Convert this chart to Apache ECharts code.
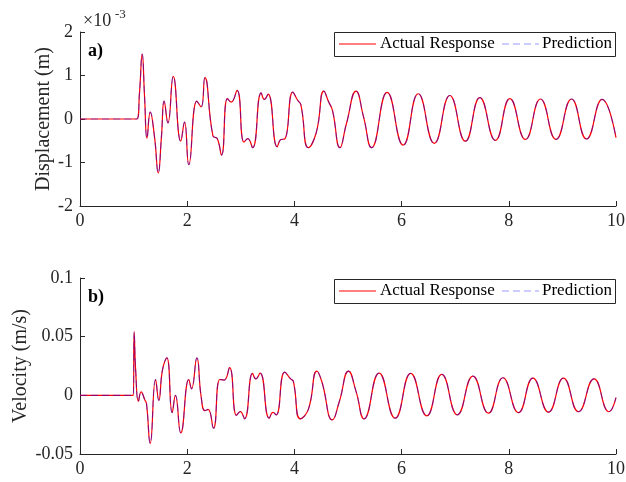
<!DOCTYPE html>
<html>
<head>
<meta charset="utf-8">
<script src="https://cdn.jsdelivr.net/npm/echarts@6/dist/echarts.min.js"></script>
<style>
html,body{margin:0;padding:0;background:#fff;}
#chart{width:626px;height:482px;}
</style>
</head>
<body>
<div id="chart"></div>
<script>
// Time (s) and displacement (x10^-3 m)
const dispTime = [0,1.06,1.11,1.16,1.205,1.25,1.31,1.39,1.46,1.52,1.57,1.64,1.74,1.88,1.95,2.03,2.18,2.26,2.33,2.48,2.56,2.64,2.75,2.82,2.93,3.06,3.13,3.22,3.38,3.44,3.51,3.68,3.75,3.82,3.97,4.06,4.12,4.26,4.41,4.55,4.64,4.71,4.85,4.97,5.15,5.29,5.44,5.73,6.03,6.31,6.61,6.90,7.19,7.46,7.75,8.02,8.31,8.59,8.88,9.17,9.45,9.74,10.0];
const dispActual = [0,0,0.6,1.49,0.5,-0.44,0.16,-0.41,-1.24,-0.4,0.41,-0.09,0.98,-0.51,-0.07,-1.05,0.41,0.28,0.95,-0.39,-0.45,-0.83,0.47,0.39,0.66,-0.53,-0.45,-0.66,0.60,0.45,0.57,-0.64,-0.47,-0.46,0.62,0.43,0.33,-0.66,-0.30,0.64,0.39,0.20,-0.66,-0.11,0.64,0.05,-0.66,0.61,-0.60,0.58,-0.56,0.54,-0.51,0.49,-0.49,0.47,-0.47,0.46,-0.47,0.46,-0.46,0.45,-0.43];
const dispPred = dispActual.slice();

// Time (s) and velocity (m/s)
const velTime = [0,0.995,1.01,1.04,1.09,1.14,1.21,1.24,1.31,1.41,1.47,1.54,1.62,1.72,1.78,1.88,2.03,2.08,2.18,2.26,2.33,2.39,2.49,2.61,2.69,2.79,2.92,2.99,3.07,3.22,3.28,3.36,3.53,3.60,3.66,3.82,3.93,3.98,4.11,4.26,4.42,4.51,4.71,4.84,5.01,5.15,5.30,5.58,5.88,6.17,6.47,6.75,7.04,7.33,7.62,7.89,8.18,8.45,8.74,9.02,9.30,9.59,9.87,10.0];
const velActual = [0,0,0.054,0.02,-0.005,0.003,-0.004,-0.007,-0.041,0.0135,-0.0043,0.022,0.032,-0.0147,0.0,-0.032,0.0135,0.0055,0.032,-0.001,-0.013,-0.012,-0.028,0.0135,0.013,0.0236,-0.017,-0.0138,-0.020,0.0187,0.014,0.019,-0.0195,-0.0146,-0.0166,0.0198,0.014,0.012,-0.020,-0.012,0.0207,0.012,-0.021,-0.005,0.0207,0.0034,-0.020,0.019,-0.0195,0.0187,-0.0175,0.0178,-0.0166,0.0164,-0.0152,0.015,-0.0147,0.0147,-0.0143,0.0147,-0.014,0.014,-0.014,-0.002];
const velPred = velActual.slice();

const xTicks = [0,2,4,6,8,10];
const seriesNames = ['Actual Response','Prediction'];
const panelLabels = ['a)','b)'];

const pair = (t, v) => t.map((x, i) => [x, v[i]]);
const FONT = '"Liberation Serif","Times New Roman",serif';
const AX = '#262626';
const RED = '#ff0000';
const BLUE = 'rgba(0,0,255,0.4)';
const DASH = [7,4];

function xAxis(gi){
  return {
    type:'value', gridIndex:gi, min:xTicks[0], max:xTicks[xTicks.length-1], interval:xTicks[1]-xTicks[0],
    axisLine:{show:true, onZero:false, lineStyle:{color:AX, width:1}},
    axisTick:{show:true, inside:true, length:5, lineStyle:{color:AX}},
    axisLabel:{color:'#262626', fontFamily:FONT, fontSize:18, margin:6},
    splitLine:{show:false}
  };
}
function yAxis(gi, min, max, interval, name, gap){
  return {
    type:'value', gridIndex:gi, min:min, max:max, interval:interval,
    name:name, nameLocation:'middle', nameGap:gap, nameRotate:90, nameMoveOverlap:false,
    nameTextStyle:{color:'#262626', fontFamily:FONT, fontSize:20},
    axisLine:{show:true, onZero:false, lineStyle:{color:AX, width:1}},
    axisTick:{show:true, inside:true, length:5, lineStyle:{color:AX}},
    axisLabel:{color:'#262626', fontFamily:FONT, fontSize:18, margin:7},
    splitLine:{show:false}
  };
}
// legend box drawn as graphic elements (box, sample lines, real text)
function legendBox(top){
  const cy = top + 12;
  return {
    type:'group', z:100, children:[
      {type:'rect', shape:{x:334.5, y:top + 0.5, width:281, height:24}, style:{fill:'#fff', stroke:'#262626', lineWidth:1}},
      {type:'line', shape:{x1:339, y1:cy, x2:376, y2:cy}, style:{stroke:RED, lineWidth:1.2}},
      {type:'text', x:380, y:cy, style:{text:seriesNames[0], fill:'#000', font:'17px ' + FONT, verticalAlign:'middle', align:'left'}},
      {type:'line', shape:{x1:502, y1:cy, x2:539, y2:cy}, style:{stroke:BLUE, lineWidth:1.2, lineDash:DASH}},
      {type:'text', x:542, y:cy, style:{text:seriesNames[1], fill:'#000', font:'17px ' + FONT, verticalAlign:'middle', align:'left'}}
    ]
  };
}
function lines(xi, t, actual, pred){
  return [
    {name:seriesNames[0], type:'line', xAxisIndex:xi, yAxisIndex:xi, data:pair(t, actual),
     showSymbol:false, symbol:'none', smooth:0.5, lineStyle:{color:RED, width:1.2}, animation:false},
    {name:seriesNames[1], type:'line', xAxisIndex:xi, yAxisIndex:xi, data:pair(t, pred),
     showSymbol:false, symbol:'none', smooth:0.5, lineStyle:{color:BLUE, width:1.2, type:DASH}, animation:false}
  ];
}

const chart = echarts.init(document.getElementById('chart'));
chart.setOption({
  backgroundColor:'#fff',
  animation:false,
  grid:[
    {left:80, right:10, top:32, height:174, outerBoundsMode:'none', containLabel:false},
    {left:80, right:10, top:278, height:176, outerBoundsMode:'none', containLabel:false}
  ],
  xAxis:[xAxis(0), xAxis(1)],
  yAxis:[
    yAxis(0, -2, 2, 1, 'Displacement (m)', 26),
    yAxis(1, -0.05, 0.1, 0.05, 'Velocity (m/s)', 49)
  ],
  graphic:[
    {type:'text', left:83, top:12, style:{text:'×10', fill:'#262626', font:'18px '+FONT}},
    {type:'text', left:115, top:8, style:{text:'-3', fill:'#262626', font:'13px '+FONT}},
    {type:'text', left:88, top:42, style:{text:panelLabels[0], fill:'#000', font:'bold 18px '+FONT}},
    {type:'text', left:88, top:288, style:{text:panelLabels[1], fill:'#000', font:'bold 18px '+FONT}},
    legendBox(32),
    legendBox(279)
  ],
  series:[].concat(lines(0, dispTime, dispActual, dispPred), lines(1, velTime, velActual, velPred))
});
</script>
</body>
</html>
